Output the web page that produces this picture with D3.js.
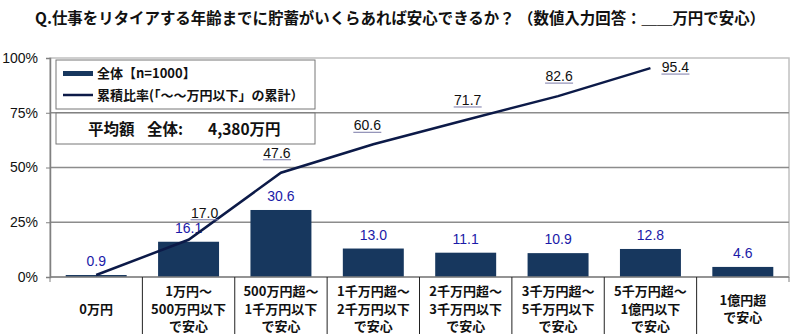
<!DOCTYPE html>
<html><head><meta charset="utf-8">
<script src="https://cdn.jsdelivr.net/npm/d3@7/dist/d3.min.js"></script>
<style>body{margin:0;background:#fff;}svg{display:block;}</style>
</head><body>
<svg id="c" width="800" height="334"></svg>
<script>
const categories = [
  ["0万円"],
  ["1万円～","500万円以下","で安心"],
  ["500万円超～","1千万円以下","で安心"],
  ["1千万円超～","2千万円以下","で安心"],
  ["2千万円超～","3千万円以下","で安心"],
  ["3千万円超～","5千万円以下","で安心"],
  ["5千万円超～","1億円以下","で安心"],
  ["1億円超","で安心"]
];
const barValues = [0.9, 16.1, 30.6, 13.0, 11.1, 10.9, 12.8, 4.6];
const cumValues = [0.9, 17.0, 47.6, 60.6, 71.7, 82.6, 95.4];
const yTicks = [0, 25, 50, 75, 100];
const titleText = "Q.仕事をリタイアする年齢までに貯蓄がいくらあれば安心できるか？ （数値入力回答：＿＿万円で安心）";
const legendLabels = ["全体【n=1000】", "累積比率(「～～万円以下」の累計）"];
const avgText = ["平均額", "全体:", "4,380万円"];

const svg = d3.select("#c");
const font = "'Noto Sans CJK JP','Noto Sans',sans-serif";
const numFont = "'Liberation Sans',Arial,sans-serif";
const L = 50, R = 789, T = 58, B = 277;
const x = d3.scaleBand().domain(d3.range(categories.length)).range([L, R]).paddingInner(0.34).paddingOuter(0.17);
const xc = i => x(i) + x.bandwidth() / 2;
const y = d3.scaleLinear().domain([0, 100]).range([B, T]);
const step = x.step();

// title
svg.append("text").attr("x", 400).attr("y", 24).attr("text-anchor", "middle")
  .attr("font-family", font).attr("font-weight", "bold").attr("font-size", 15.5)
  .attr("textLength", 730).attr("lengthAdjust", "spacingAndGlyphs").attr("fill", "#111").text(titleText);

// plot frame
svg.append("rect").attr("x", L).attr("y", T).attr("width", R - L).attr("height", B - T)
  .attr("fill", "none").attr("stroke", "#c0c0c0").attr("stroke-width", 1.5);
// gridlines
svg.append("g").selectAll("line").data(yTicks.filter(d => d > 0 && d < 100)).join("line")
  .attr("x1", L).attr("x2", R).attr("y1", d => y(d)).attr("y2", d => y(d))
  .attr("stroke", "#8c8c8c").attr("stroke-width", 1.5);

// y axis
const ya = svg.append("g").attr("transform", `translate(${L},0)`)
  .call(d3.axisLeft(y).tickValues(yTicks).tickFormat(d => d + "%").tickSize(4).tickPadding(8));
ya.select(".domain").attr("stroke", "#808080").attr("stroke-width", 1.5);
ya.selectAll(".tick line").attr("stroke", "#808080");
ya.selectAll("text").attr("font-family", numFont).attr("font-size", 14).attr("fill", "#111");

// bars
svg.append("g").selectAll("rect").data(barValues).join("rect")
  .attr("x", (d, i) => x(i)).attr("width", x.bandwidth())
  .attr("y", d => y(d)).attr("height", d => y(0) - y(d))
  .attr("fill", "#17375e");

// x axis baseline
svg.append("line").attr("x1", L).attr("x2", R).attr("y1", B).attr("y2", B)
  .attr("stroke", "#808080").attr("stroke-width", 1.5);
// category separators
const bounds = d3.range(categories.length + 1);
svg.append("g").selectAll("line").data(bounds).join("line")
  .attr("x1", i => L + i * step).attr("x2", i => L + i * step)
  .attr("y1", B).attr("y2", i => (i === 0 || i === categories.length) ? B + 5 : 334)
  .attr("stroke", i => (i === 0 || i === categories.length) ? "#808080" : "#222").attr("stroke-width", 1);

// bar value labels
svg.append("g").selectAll("text").data(barValues).join("text")
  .attr("x", (d, i) => xc(i)).attr("y", d => y(d) - 9)
  .attr("text-anchor", "middle").attr("font-family", numFont)
  .attr("font-size", 14).attr("fill", "#1a1aa8").text(d => d.toFixed(1));

// cumulative line
svg.append("path").datum(cumValues)
  .attr("d", d3.line().x((d, i) => xc(i)).y(d => y(d)))
  .attr("fill", "none").attr("stroke", "#0c1a48").attr("stroke-width", 2.5);

// cumulative labels (underlined)
const cumDx = [0, 16, -4, -6, 2, 1, 25];
const cumDy = [0, -22, -15, -14, -15, -15, 4];
const cl = svg.append("g").selectAll("g").data(cumValues).join("g")
  .filter((d, i) => i > 0)
  .attr("transform", (d, i) => `translate(${xc(i + 1) + cumDx[i + 1]},${y(d) + cumDy[i + 1]})`);
cl.append("text").attr("text-anchor", "middle").attr("font-family", numFont)
  .attr("font-size", 14).attr("fill", "#111").text(d => d.toFixed(1));
cl.append("line").attr("x1", -14).attr("x2", 14).attr("y1", 2).attr("y2", 2)
  .attr("stroke", "#7a7aa8").attr("stroke-width", 1);

// x labels
const xl = svg.append("g").selectAll("text").data(categories).join("text")
  .attr("text-anchor", "middle").attr("font-family", font).attr("font-weight", "bold")
  .attr("font-size", 13).attr("fill", "#111");
xl.each(function(lines, i) {
  const t = d3.select(this);
  const n = lines.length;
  const y0 = 309 - (n - 1) * 17.5 / 2;
  lines.forEach((s, k) => t.append("tspan").attr("x", xc(i)).attr("y", y0 + k * 17.5 + 4.5).text(s));
});

// legend box
svg.append("rect").attr("x", 56).attr("y", 60).attr("width", 259).attr("height", 49)
  .attr("fill", "#fff").attr("stroke", "#777").attr("stroke-width", 1);
svg.append("rect").attr("x", 63).attr("y", 71).attr("width", 30).attr("height", 5).attr("fill", "#17375e");
svg.append("line").attr("x1", 63).attr("x2", 93).attr("y1", 95).attr("y2", 95).attr("stroke", "#0c1a48").attr("stroke-width", 2.5);
svg.append("g").selectAll("text").data(legendLabels).join("text")
  .attr("x", 97).attr("y", (d, i) => 78 + i * 22)
  .attr("font-family", font).attr("font-weight", "bold").attr("font-size", 13).attr("fill", "#111")
  .text(d => d);

// average box
svg.append("rect").attr("x", 56).attr("y", 113).attr("width", 259).attr("height", 31)
  .attr("fill", "#fff").attr("stroke", "#777").attr("stroke-width", 1);
const avgX = [88, 147, 208];
svg.append("g").selectAll("text").data(avgText).join("text")
  .attr("x", (d, i) => avgX[i]).attr("y", 135)
  .attr("font-family", font).attr("font-weight", "bold").attr("font-size", 15.5).attr("fill", "#111")
  .text(d => d);
</script>
</body></html>
